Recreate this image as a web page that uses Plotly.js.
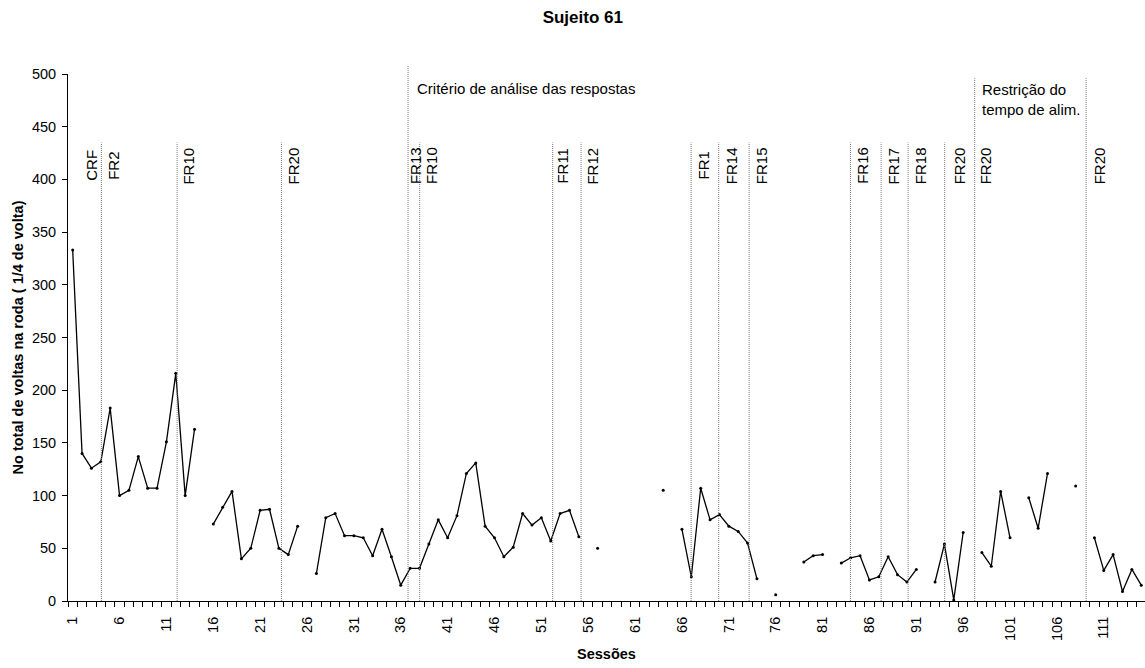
<!DOCTYPE html>
<html><head><meta charset="utf-8">
<script src="https://cdn.plot.ly/plotly-3.0.1.min.js"></script>
<style>html,body{margin:0;padding:0;background:#fff}#chart{width:1145px;height:668px}</style>
</head><body><div id="chart"></div>
<script>
// Total wheel revolutions (1/4 turn units) per session; null = no data
const revolutions = [
  333,140,126,132,183,100,105,137,107,107,
  151,216,100,163,null,73,89,104,40,50,
  86,87,50,44,71,null,26,79,83,62,
  62,60,43,68,42,15,31,31,54,77,
  60,81,121,131,71,60,42,51,83,72,
  79,57,83,86,61,null,50,null,null,null,
  null,null,null,105,null,68,23,107,77,82,
  71,66,55,21,null,6,null,null,37,43,
  44,null,36,41,43,20,23,42,25,18,
  30,null,18,54,1,65,null,46,33,104,
  60,null,98,69,121,null,null,109,null,60,
  29,44,9,30,15
];
const sessions = revolutions.map((v, i) => i + 1);

const tickPositions = [1,6,11,16,21,26,31,36,41,46,51,56,61,66,71,76,81,86,91,96,101,106,111];
const tickLabels = ['1','6','11','16','21','26','31','36','41','46','51','56','61','66','71','76','81','86','91','96','101','106','111'];

// phase change boundaries (session axis) and which ones span the full height
const phaseLineX = [4.06,12.14,23.27,36.78,38.02,52.21,55.24,66.98,69.92,73.17,83.97,87.25,90.13,94.03,97.23,109.12];
const phaseLineKind = ['s','s','s','crit','s','s','s','s','s','s','s','s','s','s','long','long'];

const phaseLabels = ['CRF','FR2','FR10','FR20','FR13','FR10','FR11','FR12','FR1','FR14','FR15','FR16','FR17','FR18','FR20','FR20','FR20'];
const phaseLabelX = [3.07,5.42,13.40,24.58,37.56,39.25,53.3,56.5,68.32,71.28,74.48,85.33,88.6,91.45,95.62,98.4,110.56];

const FONT = 'Liberation Sans, Arial, sans-serif';

const trace = {
  x: sessions, y: revolutions, type: 'scatter', mode: 'lines+markers',
  connectgaps: false,
  line: {color: '#000', width: 1.3},
  marker: {color: '#000', size: 3},
  hoverinfo: 'x+y'
};

const dotted = {color:'#777', width:1, dash:'1px,1px'};
const shapes = phaseLineX.map((x, i) => {
  const k = phaseLineKind[i];
  if (k === 's') {
    return {type:'line', xref:'x', yref:'y', x0:x, x1:x, y0:0, y1:435, line:dotted};
  }
  return {type:'line', xref:'x', yref:'paper', x0:x, x1:x, y0:0, y1:(k === 'crit' ? 1.017 : 0.992), line:dotted};
});

const annotations = phaseLabels.map((t, i) => ({
  text: t, x: phaseLabelX[i], y: 413, xref:'x', yref:'y',
  xanchor:'center', yanchor:'middle', textangle:-90, showarrow:false,
  font:{family:FONT, size:15, color:'#000'}
}));
annotations.push({
  text:'Critério de análise das respostas', x:37.55, y:486, xref:'x', yref:'y',
  xanchor:'left', yanchor:'middle', showarrow:false, font:{family:FONT, size:15, color:'#000'}
});
annotations.push({
  text:'Restrição do<br>tempo de alim.', x:97.75, y:476, xref:'x', yref:'y', align:'left',
  xanchor:'left', yanchor:'middle', showarrow:false, font:{family:FONT, size:15, color:'#000'}
});

const boundaries = [0].concat(sessions).map(s => s + 0.5);

const layout = {
  width:1145, height:668,
  margin:{l:68, r:0, t:74, b:67},
  paper_bgcolor:'#fff', plot_bgcolor:'#fff',
  showlegend:false,
  font:{family:FONT, color:'#000'},
  title:{text:'Sujeito 61', font:{family:FONT, size:17, weight:'bold', color:'#000'},
    x:0.509, xref:'container', xanchor:'center', y:0.975, yref:'container', yanchor:'middle'},
  xaxis:{
    range:[0.5, 115.4], tickmode:'array', tickvals:tickPositions, ticktext:tickLabels,
    tickangle:-90, ticks:'outside', ticklen:9, tickcolor:'rgba(0,0,0,0)',
    tickfont:{family:FONT, size:14.5, color:'#000'},
    showline:true, linecolor:'#000', linewidth:1, showgrid:false, zeroline:false,
    minor:{tickmode:'array', tickvals:boundaries, ticks:'outside', ticklen:5, tickcolor:'#000', tickwidth:1, showgrid:false},
    title:{text:'Sessões', font:{family:FONT, size:14.5, weight:'bold', color:'#000'}, standoff:8}
  },
  yaxis:{
    range:[0, 500], tickmode:'linear', tick0:0, dtick:50,
    ticks:'outside', ticklen:5, tickcolor:'#000', ticklabelstandoff:3,
    tickfont:{family:FONT, size:14.5, color:'#000'},
    showline:true, linecolor:'#000', linewidth:1, showgrid:false, zeroline:false,
    title:{text:'No total de voltas na roda ( 1/4 de volta)', font:{family:FONT, size:14.5, weight:'bold', color:'#000'}, standoff:4}
  },
  shapes: shapes,
  annotations: annotations
};

Plotly.newPlot('chart', [trace], layout, {displayModeBar:false, staticPlot:true});
</script>
</body></html>
